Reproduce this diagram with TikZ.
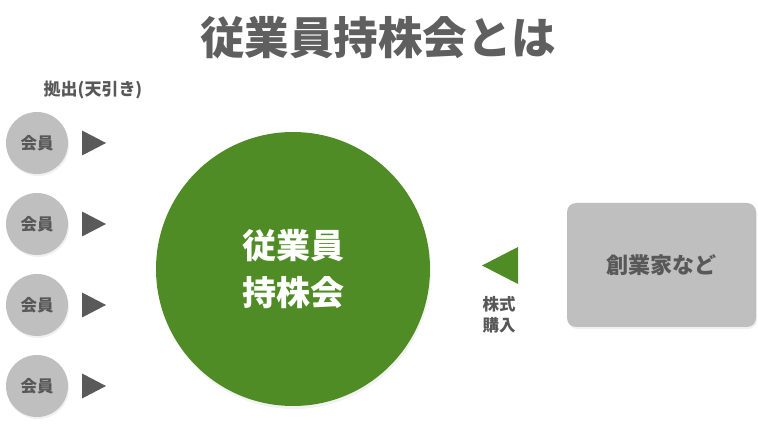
\documentclass[tikz,border=0pt]{standalone}
\usepackage{fontspec}
\setmainfont{Noto Sans CJK JP}
\usetikzlibrary{shadows}
\definecolor{titlegray}{RGB}{95,95,95}
\definecolor{membergray}{RGB}{191,191,191}
\definecolor{textgray}{RGB}{88,88,88}
\definecolor{arrowgray}{RGB}{90,90,90}
\definecolor{assocgreen}{RGB}{80,140,38}
\tikzset{
  member/.style={circle,fill=membergray,minimum size=62pt,inner sep=0pt,text=textgray,
    font=\bfseries\fontsize{16.5}{16.5}\selectfont,
    drop shadow={opacity=0.12,shadow xshift=1pt,shadow yshift=-2pt}},
  assoc/.style={circle,fill=assocgreen,minimum size=274pt,inner sep=0pt,text=white,align=center,
    font=\bfseries\fontsize{34}{47}\selectfont,
    drop shadow={opacity=0.10,shadow xshift=1pt,shadow yshift=-3pt}},
  founder/.style={rectangle,rounded corners=9pt,fill=membergray,minimum width=189pt,minimum height=124pt,
    text=textgray,font=\bfseries\fontsize{22}{22}\selectfont,
    drop shadow={opacity=0.12,shadow xshift=1pt,shadow yshift=-2pt}},
  smalltext/.style={text=textgray,align=center,font=\bfseries\fontsize{16.5}{21}\selectfont}
}

\begin{document}
\begin{tikzpicture}[x=1pt,y=-1pt]
  \useasboundingbox (0,0) rectangle (758,427);

  \node[text=titlegray,font=\bfseries\fontsize{44.5}{44.5}\selectfont] (title) at (378,38) {従業員持株会とは};

  % members:
  \node[smalltext,font=\bfseries\fontsize{17}{17}\selectfont] (kyoshutsu) at (93,90) {拠出(天引き)};
  \foreach \i/\y in {1/143, 2/224, 3/305, 4/386}
  {
     \node[member] (m\i) at (37,\y) {会員};
     \fill[arrowgray] (82,\y-12.5) -- (106,\y) -- (82,\y+12.5) -- cycle;
  }

  % association:
  \node[assoc] (assoc) at (293,269) {従業員\\持株会};

  % founder:
  \fill[assocgreen] (518,247) -- (482,265.5) -- (518,284) -- cycle;
  \node[smalltext] (kabushiki) at (499,315) {株式\\購入};
  \node[founder] (founder) at (661.5,265) {創業家など};
\end{tikzpicture}
\end{document}
